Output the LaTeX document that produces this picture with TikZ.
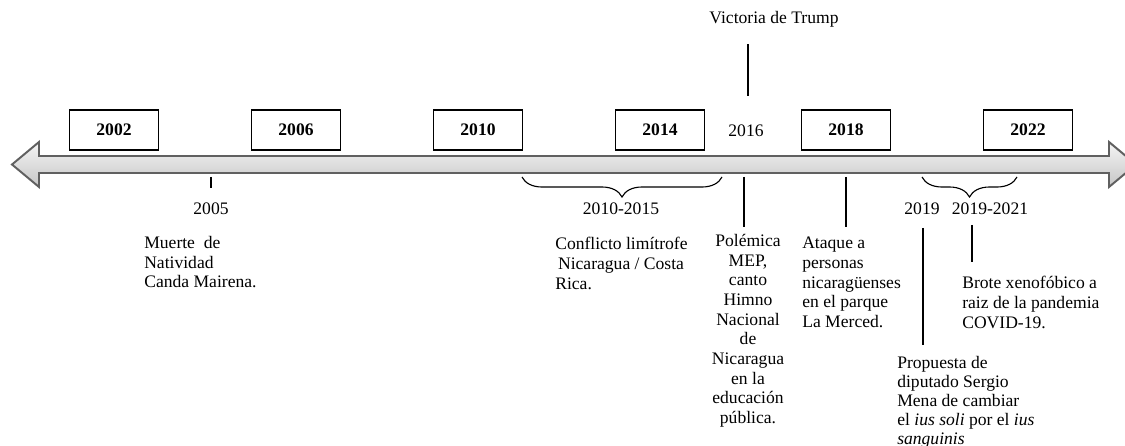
\documentclass[tikz,border=0pt]{standalone}
\usepackage{fontspec}
\setmainfont{Liberation Serif}
\usetikzlibrary{decorations.pathreplacing}
\tikzset{
	yearbox/.style={draw, line width=0.8pt, minimum width=2.225cm, minimum height=1cm, inner sep=0pt, font=\fontsize{12.5}{14}\selectfont\bfseries},
	yeartext/.style={inner sep=0pt, anchor=base, font=\fontsize{12.5}{14}\selectfont},
	eventtext/.style={inner sep=0pt, anchor=north west, align=left, font=\fontsize{12.5}{14}\selectfont},
	stem/.style={line width=1.4pt},
	span/.style={decorate, decoration={brace, mirror, amplitude=0.5cm}, line width=0.8pt}
}
\begin{document}
\begin{tikzpicture}[x=0.025cm, y=-0.025cm]
		%%%%% START %%%%%
		\useasboundingbox (0,0) rectangle (1125,446);
		
		% double arrow
		\draw[line width=1.4pt, draw=gray!75!black, top color=gray!8, bottom color=gray!45]
			(12,164.5) -- (39,142) -- (39,156) -- (1109,156) -- (1109,142) -- (1136,164.5)
			-- (1109,187) -- (1109,173) -- (39,173) -- (39,187) -- cycle;
		
		% years in boxes
		\node[yearbox] (y02) at (114,130) {2002};
		\node[yearbox] (y06) at (296,130) {2006};
		\node[yearbox] (y10) at (478,130) {2010};
		\node[yearbox] (y14) at (660,130) {2014};
		\node[yearbox] (y18) at (846,130) {2018};
		\node[yearbox] (y22) at (1028,130) {2022};
		
		% plain years
		\node[yeartext] (y16) at (746,137) {2016};
		\node[yeartext] (y05) at (211,215) {2005};
		\node[yeartext] (r1015) at (621,215) {2010-2015};
		\node[yeartext] (y19) at (922,215) {2019};
		\node[yeartext] (r1921) at (990,215) {2019-2021};
		
		% events
		\node[yeartext] (trump) at (774,24) {Victoria de Trump};
		\node[eventtext] (muerte) at (144,236) {Muerte\ \ de\\Natividad\\Canda Mairena.};
		\node[eventtext] (conflicto) at (555,237) {Conflicto limítrofe\\\hspace{2pt}Nicaragua / Costa\\Rica.};
		\node[eventtext, anchor=north, align=center] (mep) at (748,234) {Polémica\\MEP,\\canto\\Himno\\Nacional\\de\\Nicaragua\\en la\\educación\\pública.};
		\node[eventtext] (ataque) at (802,237) {Ataque a\\personas\\nicaragüenses\\en el parque\\La Merced.};
		\node[eventtext, font=\fontsize{12.5}{13.6}\selectfont] (mena) at (897,356) {Propuesta de\\diputado Sergio\\Mena de cambiar\\el \textit{ius soli} por el \textit{ius}\\\textit{sanguinis}};
		\node[eventtext] (brote) at (962,276) {Brote xenofóbico a\\raiz de la pandemia\\COVID-19.};
		
		% stems
		\coordinate (a05) at (211,177);
		\coordinate (a16) at (744,177);
		\coordinate (a18) at (846,177);
		\coordinate (t16) at (748,96);
		\coordinate (b19) at (923,228);
		\coordinate (b1921) at (972,225);
		\draw[stem] (a05) -- ++(0,11);
		\draw[stem] (t16) -- ++(0,-52);
		\draw[stem] (a16) -- ++(0,50);
		\draw[stem] (a18) -- ++(0,50);
		\draw[stem] (b19) -- ++(0,117);
		\draw[stem] (b1921) -- ++(0,37);
		
		% braces
		\draw[span] (522,177) -- (722,177);
		\draw[span] (922,177) -- (1017,177);
		%%%%% END %%%%%
\end{tikzpicture}
\end{document}
